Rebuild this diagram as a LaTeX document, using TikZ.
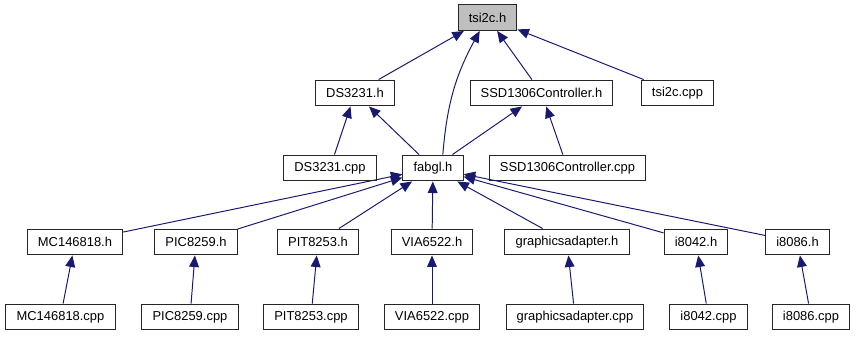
\documentclass[tikz,border=0pt]{standalone}
\usepackage{fontspec}
\setmainfont{Liberation Sans}
\usetikzlibrary{arrows.meta}

\definecolor{midnightblue}{RGB}{25,25,112}

\tikzset{
    file/.style={rectangle, draw=black!85, line width=0.75pt, inner xsep=7.6pt, inner ysep=0pt,
        minimum height=18.4pt, font=\fontsize{9.2}{11}\selectfont},
    root/.style={file, fill=black!25},
    dep/.style={draw=midnightblue, line width=0.7pt,
        {Triangle[length=8.2pt, width=7pt, fill=midnightblue]}-},
}

\begin{document}
\begin{tikzpicture}[x=0.025cm, y=-0.025cm]
    \useasboundingbox (0, 0) rectangle (856, 336);

    % header and its direct includers
    \node[root] (tsi2ch) at (487.5, 17.5) {tsi2c.h};
    \node[file] (ds3231h) at (355, 93) {DS3231.h};
    \node[file] (ssdh) at (541.5, 93) {SSD1306Controller.h};
    \node[file] (tsi2ccpp) at (677.5, 93) {tsi2c.cpp};

    \node[file] (ds3231cpp) at (330, 168) {DS3231.cpp};
    \node[file] (fabglh) at (433, 168) {fabgl.h};
    \node[file] (ssdcpp) at (567.5, 168) {SSD1306Controller.cpp};

    % headers pulled in through fabgl.h
    \node[file] (mch) at (75, 242) {MC146818.h};
    \node[file] (pich) at (196, 242) {PIC8259.h};
    \node[file] (pith) at (318, 242) {PIT8253.h};
    \node[file] (viah) at (432, 242) {VIA6522.h};
    \node[file] (gah) at (567, 242) {graphicsadapter.h};
    \node[file] (i8042h) at (696, 242) {i8042.h};
    \node[file] (i8086h) at (797.5, 242) {i8086.h};

    \node[file] (mccpp) at (60.5, 317) {MC146818.cpp};
    \node[file] (piccpp) at (190, 317) {PIC8259.cpp};
    \node[file] (pitcpp) at (311, 317) {PIT8253.cpp};
    \node[file] (viacpp) at (432, 317) {VIA6522.cpp};
    \node[file] (gacpp) at (575, 317) {graphicsadapter.cpp};
    \node[file] (i8042cpp) at (708.5, 317) {i8042.cpp};
    \node[file] (i8086cpp) at (811, 317) {i8086.cpp};

    \draw[dep] (tsi2ch) -- (ds3231h);
    \draw[dep] (tsi2ch) to[bend right=12] ([xshift=7pt]fabglh.north);
    \draw[dep] (tsi2ch) -- (ssdh);
    \draw[dep] (tsi2ch) -- (tsi2ccpp);

    \draw[dep] (ds3231h) -- (ds3231cpp);
    \draw[dep] (ds3231h) -- (fabglh);
    \draw[dep] (ssdh) -- (fabglh);
    \draw[dep] (ssdh) -- (ssdcpp);

    \draw[dep] (fabglh) -- (mch);
    \draw[dep] (fabglh) -- (pich);
    \draw[dep] (fabglh) -- (pith);
    \draw[dep] (fabglh) -- (viah);
    \draw[dep] (fabglh) -- (gah);
    \draw[dep] (fabglh) -- (i8042h);
    \draw[dep] (fabglh) -- (i8086h);

    \draw[dep] (mch) -- (mccpp);
    \draw[dep] (pich) -- (piccpp);
    \draw[dep] (pith) -- (pitcpp);
    \draw[dep] (viah) -- (viacpp);
    \draw[dep] (gah) -- (gacpp);
    \draw[dep] (i8042h) -- (i8042cpp);
    \draw[dep] (i8086h) -- (i8086cpp);
\end{tikzpicture}
\end{document}
